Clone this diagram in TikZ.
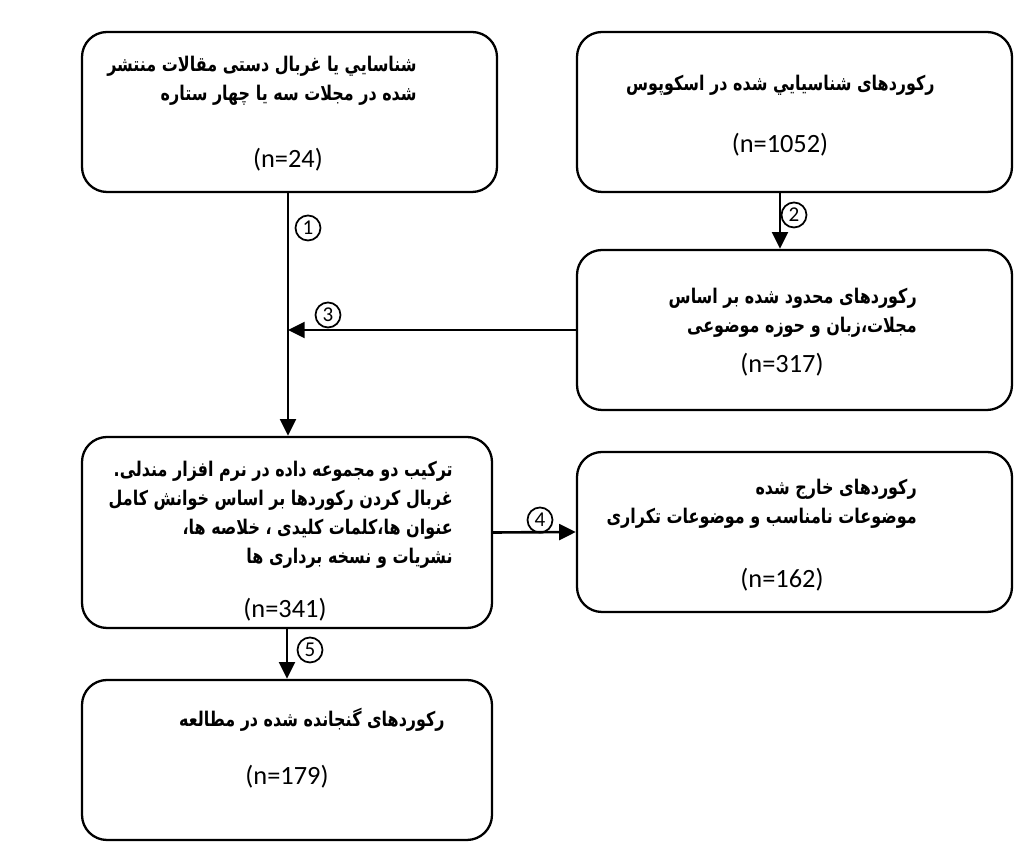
\documentclass[tikz,border=0pt]{standalone}
\usepackage{fontspec}
\usepackage{tikz}
\usetikzlibrary{arrows.meta}
\setmainfont{Carlito}
\newfontfamily\arabicfont[Script=Arabic]{DejaVu Sans}
\TeXXeTstate=1
\newcommand{\fatext}[1]{\beginR#1\endR}

\tikzset{
	box/.style={draw, line width=1.3pt, rounded corners=0.5cm, inner sep=0pt, minimum height=3.2cm},
	fa/.style={font=\arabicfont\bfseries\fontsize{11.5}{16.5}\selectfont, align=right, anchor=east, inner sep=0pt, xscale=0.79, transform shape},
	num/.style={font=\fontsize{15}{18}\selectfont, inner sep=0pt},
	step label/.style={draw, circle, line width=1pt, minimum size=0.5cm, inner sep=0pt, font=\fontsize{12}{12}\selectfont},
	flow/.style={line width=1.5pt, -{Triangle[length=9.5pt, width=9pt]}}
}

\begin{document}
\begin{tikzpicture}
	\useasboundingbox (0, 0) rectangle (20.48, 17.04);
	% Boxes:
	\node[box, minimum width=8.3cm](hand) at (5.79, 14.8){};
	\node[box, minimum width=8.7cm](scopus) at (15.89, 14.8){};
	\node[box, minimum width=8.7cm](limited) at (15.89, 10.44){};
	\node[box, minimum width=8.2cm, minimum height=3.82cm](merged) at (5.74, 6.39){};
	\node[box, minimum width=8.7cm](excluded) at (15.89, 6.4){};
	\node[box, minimum width=8.2cm](included) at (5.74, 1.84){};
	% Texts:
	\node[fa](t1) at (8.34, 15.43){\fatext{شناسايي يا غربال دستی مقالات منتشر}\\\fatext{شده در مجلات سه یا چهار ستاره}};
	\node[num](n1) at (5.76, 13.84){(n=24)};
	\node[fa](t2) at (18.7, 15.34){\fatext{رکوردهای شناسيايي شده در اسکوپوس}};
	\node[num](n2) at (15.6, 14.14){(n=1052)};
	\node[fa](t3) at (18.34, 10.79){\fatext{رکوردهای محدود شده بر اساس}\\\fatext{مجلات،زبان و حوزه موضوعی}};
	\node[num](n3) at (15.64, 9.74){(n=317)};
	\node[fa](t4) at (9.06, 6.74){\fatext{ترکیب دو مجموعه داده در نرم افزار مندلی.}\\\fatext{غربال کردن رکوردها بر اساس خوانش کامل}\\\fatext{عنوان ها،کلمات کلیدی ، خلاصه ها،}\\\fatext{نشریات و نسخه برداری ها}};
	\node[num](n4) at (5.7, 4.84){(n=341)};
	\node[fa](t5) at (18.34, 6.96){\fatext{رکوردهای خارج شده}\\\fatext{موضوعات نامناسب و موضوعات تکراری}};
	\node[num](n5) at (15.64, 5.44){(n=162)};
	\node[fa](t6) at (8.9, 2.64){\fatext{رکوردهای گنجانده شده در مطالعه}};
	\node[num](n6) at (5.74, 1.5){(n=179)};
	% Arrows:
	\coordinate (s1) at (5.76, 13.2);
	\coordinate (s2) at (15.6, 13.2);
	\draw[flow] (s1) -- (s1 |- merged.north);
	\draw[flow] (s2) -- (s2 |- limited.north);
	\draw[flow] (limited.west) -- (s1 |- limited.west);
	\draw[flow] (merged.east) -- (excluded.west);
	\draw[flow] (merged.south) -- (included.north);
	% Step labels:
	\node[step label](c1) at (6.16, 12.48){1};
	\node[step label](c2) at (15.88, 12.74){2};
	\node[step label](c3) at (6.56, 10.74){3};
	\node[step label](c4) at (10.8, 6.64){4};
	\node[step label](c5) at (6.2, 4.04){5};
\end{tikzpicture}
\end{document}
